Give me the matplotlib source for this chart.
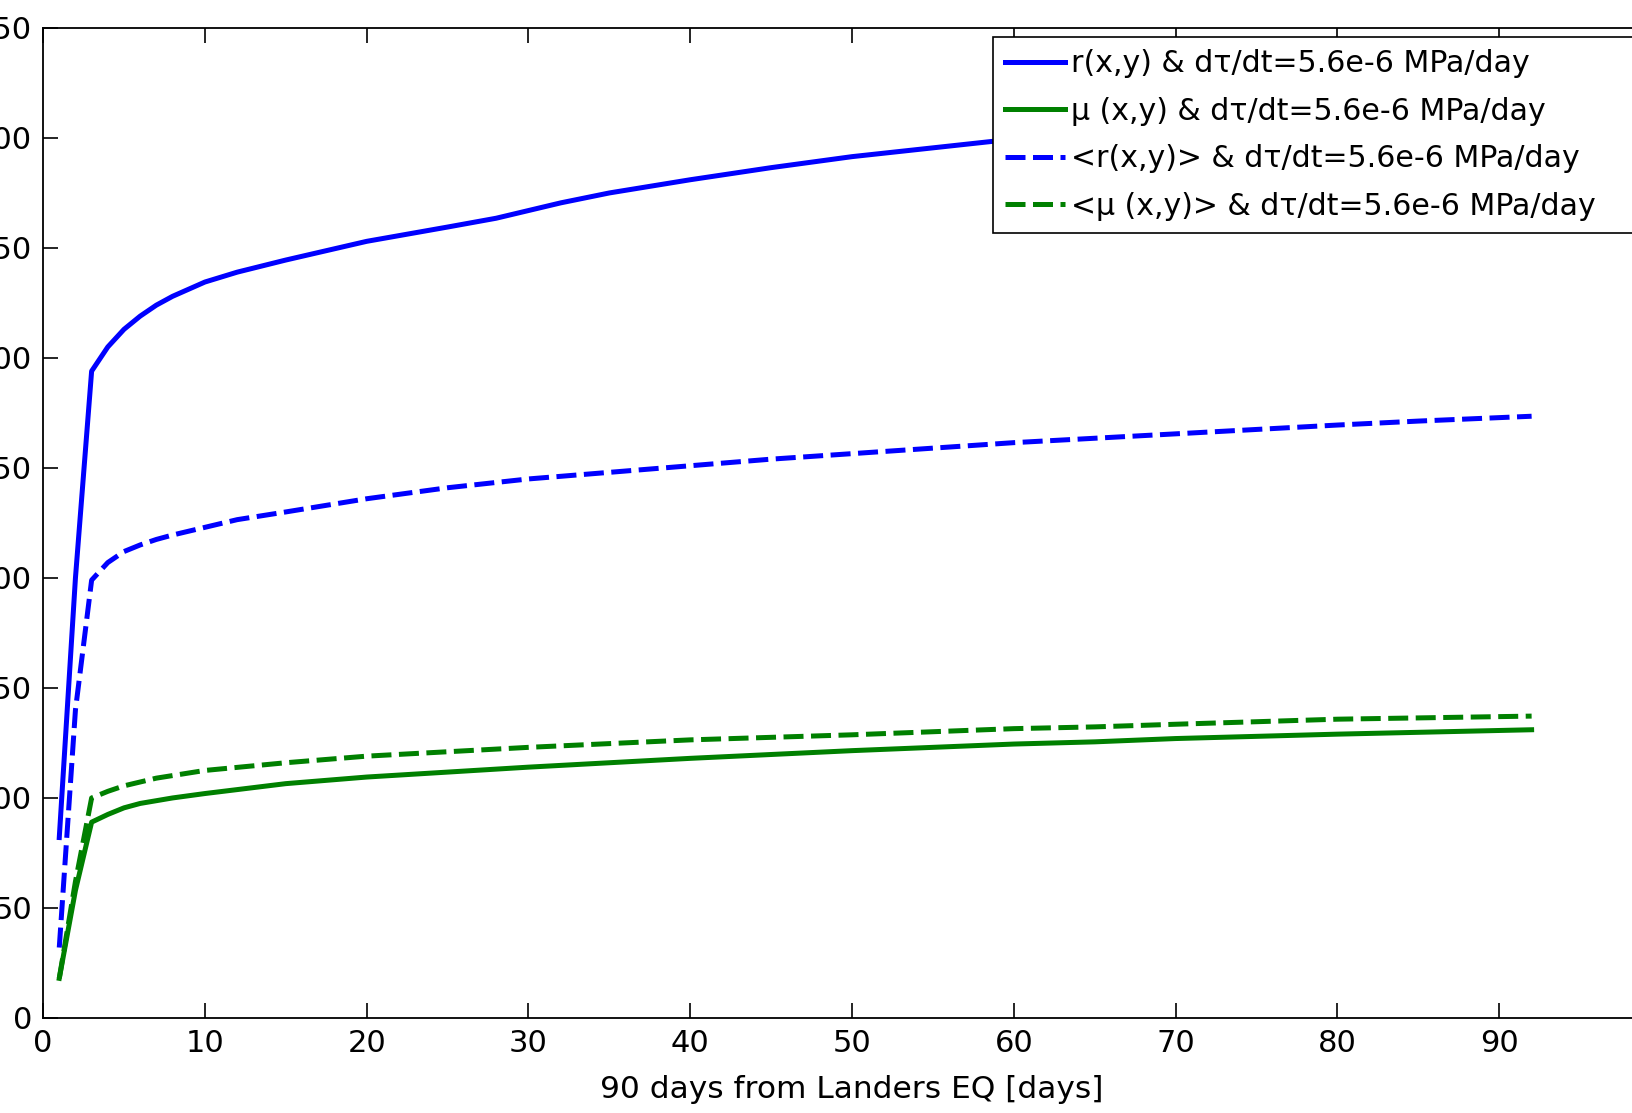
import matplotlib
matplotlib.use("Agg")
import matplotlib.pyplot as plt

plt.rcParams['font.family'] = ['DejaVu Sans']

# (days after Landers EQ)
days_r = [1, 2, 3, 4, 5, 6, 7, 8, 10, 12, 15, 20, 25, 28, 30, 32, 35, 40, 45, 50, 55, 60, 70, 80, 92]
r_vals = [82, 200, 294, 305, 313, 319, 324, 328, 334.5, 339, 344.5, 353, 359.5, 363.5, 367, 370.5,
          375, 381, 386.5, 391.5, 395.5, 399.5, 406, 412, 419]

days_mu = [1, 2, 3, 4, 5, 6, 8, 10, 15, 20, 30, 40, 50, 60, 65, 70, 80, 92]
mu_vals = [18, 58, 89, 92.5, 95.5, 97.5, 100, 102, 106.5, 109.5, 114, 118, 121.5, 124.5, 125.5, 127, 129, 131]

days_rm = [1, 2, 3, 4, 5, 6, 7, 8, 10, 12, 15, 20, 25, 30, 35, 40, 45, 50, 55, 60, 65, 70, 75, 80, 85, 92]
rm_vals = [32, 140, 199, 207, 212, 215, 217.5, 219.5, 223, 226.5, 230, 236, 241, 245, 248, 251, 254,
           256.5, 259, 261.5, 263.5, 265.5, 267.5, 269.5, 271.3, 273.5]

days_mum = [1, 2, 3, 4, 5, 7, 10, 15, 20, 30, 40, 50, 60, 65, 70, 80, 92]
mum_vals = [18, 62, 100, 103, 105.5, 109, 112.5, 116, 119, 123, 126.4, 128.7, 131.5, 132.3, 133.5, 135.8, 137.2]

labels = ["r(x,y) & dτ/dt=5.6e-6 MPa/day",
          "μ (x,y) & dτ/dt=5.6e-6 MPa/day",
          "<r(x,y)> & dτ/dt=5.6e-6 MPa/day",
          "<μ (x,y)> & dτ/dt=5.6e-6 MPa/day"]

fig = plt.figure(figsize=(16.32, 11.13), dpi=100)
ax = fig.add_axes([0.0264, 0.0854, 0.9914, 0.8895])

ax.plot(days_r, r_vals, "-", color="#0000ff", lw=3.6, label=labels[0])
ax.plot(days_mu, mu_vals, "-", color="#008000", lw=3.6, label=labels[1])
ax.plot(days_rm, rm_vals, "--", color="#0000ff", lw=3.6, dashes=(4, 1.5), label=labels[2])
ax.plot(days_mum, mum_vals, "--", color="#008000", lw=3.6, dashes=(4, 1.5), label=labels[3])

ax.set_xlim(0, 100)
ax.set_ylim(0, 450)
ax.set_xticks(range(0, 100, 10))
ax.set_yticks(range(0, 451, 50))
ax.tick_params(direction="in", length=11, width=1.2, top=True, right=True, labelsize=22, pad=8)
for s in ax.spines.values():
    s.set_linewidth(1.3)
ax.set_xlabel("90 days from Landers EQ [days]", size=22.5, labelpad=12)

# legend box runs past the right edge of the picture, as in the original
leg = ax.legend(loc="upper left", bbox_to_anchor=(993 / 1632, 1 - 37 / 1113, 0.42, 0),
                bbox_transform=fig.transFigure, mode="expand", fontsize=21.6, fancybox=False,
                framealpha=1, edgecolor="black", handlelength=2.0, handletextpad=0.2,
                labelspacing=0.62, borderaxespad=0, borderpad=0.4)
leg.get_frame().set_linewidth(1.2)

fig.savefig("out.png", dpi=100)
